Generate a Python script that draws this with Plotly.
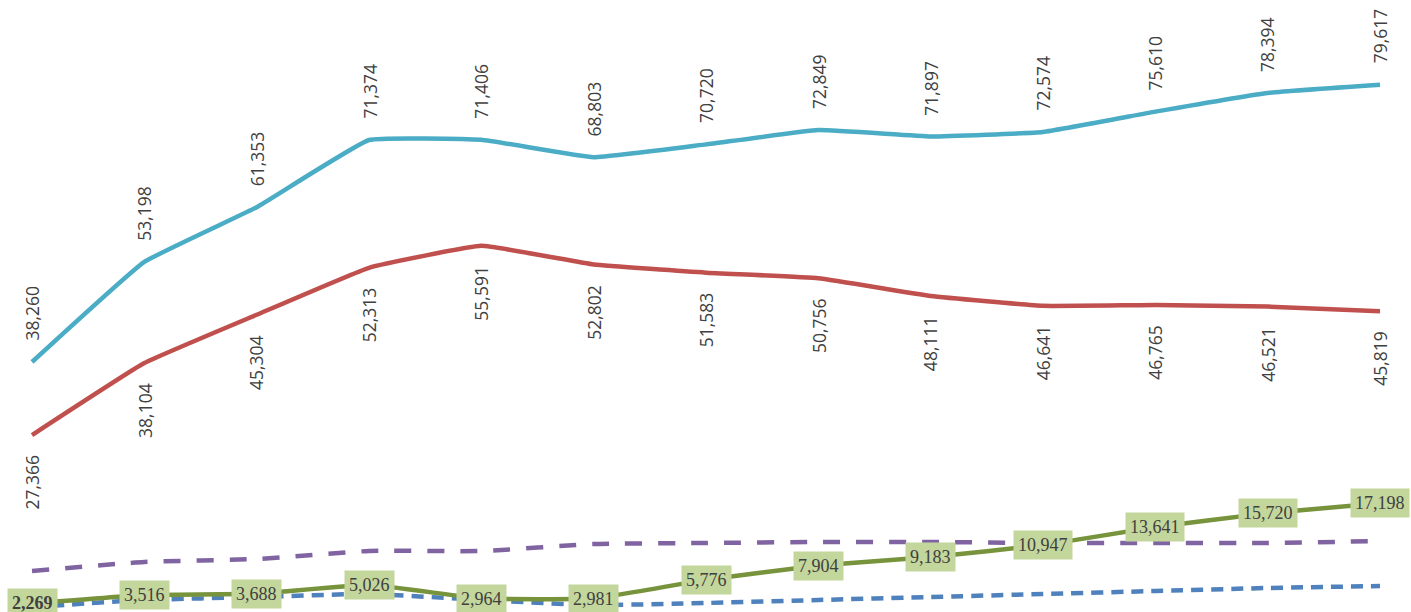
import plotly.graph_objects as go

categories = list(range(13))
teal_vals = [38260, 53198, 61353, 71374, 71406, 68803, 70720, 72849, 71897, 72574, 75610, 78394, 79617]
red_vals = [27366, 38104, 45304, 52313, 55591, 52802, 51583, 50756, 48111, 46641, 46765, 46521, 45819]
green_vals = [2269, 3516, 3688, 5026, 2964, 2981, 5776, 7904, 9183, 10947, 13641, 15720, 17198]
purple_vals = [7085, 8430, 8880, 10070, 10070, 11110, 11260, 11410, 11410, 11260, 11260, 11260, 11560]
blue_vals = [1715, 2760, 3207, 3655, 2760, 2014, 2312, 2760, 3207, 3655, 4102, 4550, 4848]

TEAL = "#4bacc6"
RED = "#c0504d"
GREEN = "#77933c"
PURPLE = "#8064a2"
BLUE = "#4f81bd"
TXT = "#404040"

fig = go.Figure()
fig.add_trace(go.Scatter(x=categories, y=purple_vals, mode="lines",
                         line=dict(color=PURPLE, width=4.5, dash="17px,16px", shape="spline", smoothing=0.5)))
fig.add_trace(go.Scatter(x=categories, y=blue_vals, mode="lines",
                         line=dict(color=BLUE, width=4.5, dash="12px,8px", shape="spline", smoothing=0.5)))
fig.add_trace(go.Scatter(x=categories, y=green_vals, mode="lines",
                         line=dict(color=GREEN, width=4.5, shape="spline", smoothing=0.3)))
fig.add_trace(go.Scatter(x=categories, y=red_vals, mode="lines",
                         line=dict(color=RED, width=4.5, shape="spline", smoothing=0.3)))
fig.add_trace(go.Scatter(x=categories, y=teal_vals, mode="lines",
                         line=dict(color=TEAL, width=4.5, shape="spline", smoothing=0.3)))

annotations = []
for i, v in enumerate(teal_vals):
    annotations.append(dict(x=categories[i], y=v, text=f"{v:,}", textangle=-90, showarrow=False,
                            xanchor="center", yanchor="bottom", yshift=19,
                            font=dict(family="Open Sans", size=17.5, color=TXT)))
for i, v in enumerate(red_vals):
    annotations.append(dict(x=categories[i], y=v, text=f"{v:,}", textangle=-90, showarrow=False,
                            xanchor="center", yanchor="top", yshift=-18,
                            font=dict(family="Open Sans", size=17.5, color=TXT)))
for i, v in enumerate(green_vals):
    txt = f"<b>{v:,}</b>" if i == 0 else f"{v:,}"
    annotations.append(dict(x=categories[i], y=v, text=txt, showarrow=False,
                            xanchor="center", yanchor="middle",
                            bgcolor="#c3d69b", borderpad=4,
                            font=dict(family="Liberation Serif", size=18, color=TXT)))

fig.update_layout(
    width=1411, height=612,
    margin=dict(l=0, r=0, t=0, b=0),
    paper_bgcolor="white", plot_bgcolor="white",
    showlegend=False,
    annotations=annotations,
    xaxis=dict(range=[-0.285, 12.276], visible=False),
    yaxis=dict(range=[970, 92258], visible=False),
)
fig.write_html("out.html", config={"displayModeBar": False},
               post_script="document.body.style.margin='0';document.body.style.overflow='hidden';")
